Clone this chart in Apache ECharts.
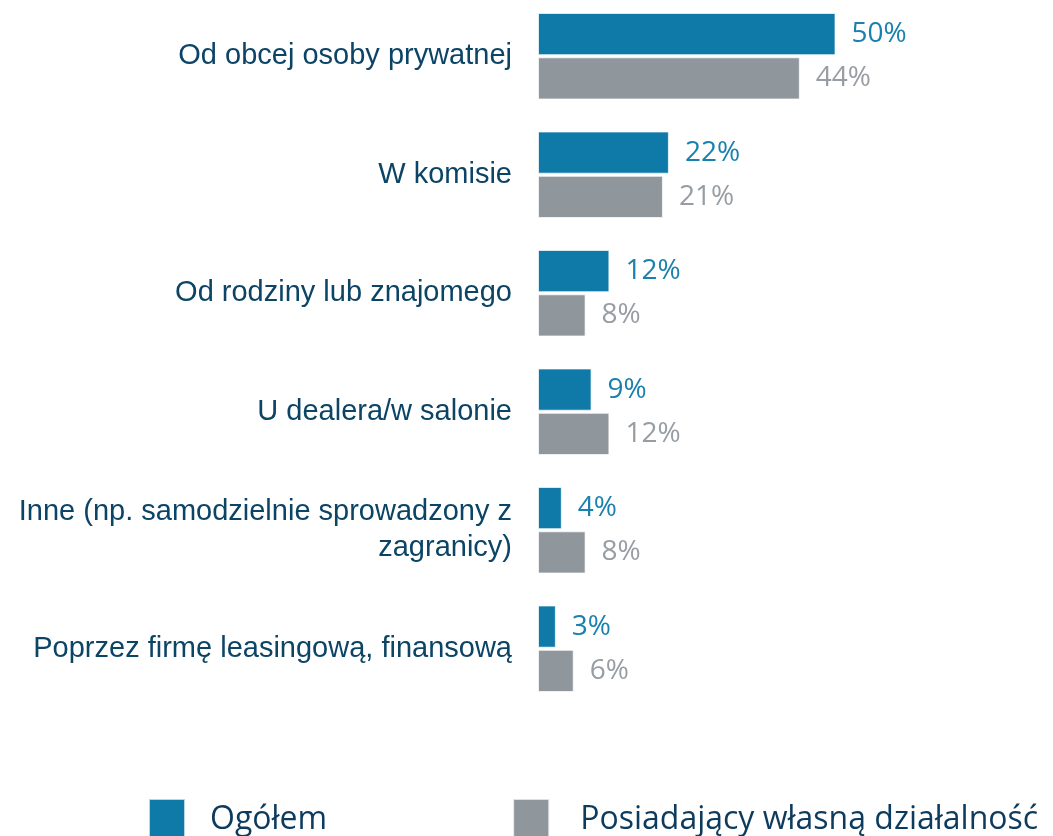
<!DOCTYPE html>
<html>
<head>
<meta charset="utf-8">
<script src="https://cdn.jsdelivr.net/npm/echarts@6/dist/echarts.min.js"></script>
<style>
  html, body { margin: 0; padding: 0; background: #fff; overflow: hidden; }
  #chart { width: 1053px; height: 839px; margin-top: -3px; }
</style>
</head>
<body>
<div id="chart"></div>
<script>
// dane z wykresu (%)
const categories = [
  'Od obcej osoby prywatnej',
  'W komisie',
  'Od rodziny lub znajomego',
  'U dealera/w salonie',
  'Inne (np. samodzielnie sprowadzony z\nzagranicy)',
  'Poprzez firmę leasingową, finansową'
];
const ogolem = [50, 22, 12, 9, 4, 3];
const dzialalnosc = [44, 21, 8, 12, 8, 6];
const seriesNames = ['Ogółem', 'Posiadający własną działalność'];

const C = { blue: '#0f79a7', gray: '#8f979d', blueTxt: '#1a80ad', grayTxt: '#979da2', ink: '#0c4466', legendInk: '#0d3b5e' };
const LABEL_FONT = '"Open Sans", sans-serif';

const chart = echarts.init(document.getElementById('chart'));

const mkSeries = (name, data, color, txt) => ({
  name, type: 'bar', data,
  barGap: '5%', barCategoryGap: '27%',
  itemStyle: { color, borderColor: 'rgba(255,255,255,0.7)', borderWidth: 1 },
  label: {
    show: true, position: 'right', distance: 16, formatter: '{c}%',
    color: txt, fontFamily: LABEL_FONT, fontSize: 28
  },
  emphasis: { disabled: true }
});

chart.setOption({
  animation: false,
  grid: { left: 538, right: 39, top: 0, height: 711, containLabel: false },
  xAxis: { type: 'value', min: 0, max: 80, show: false },
  yAxis: {
    type: 'category', data: categories, inverse: true,
    axisLine: { show: false }, axisTick: { show: false },
    axisLabel: {
      margin: 26, color: C.ink, fontFamily: '"Liberation Sans", Arial, sans-serif',
      fontSize: 29, align: 'right', lineHeight: 36
    }
  },
  legend: {
    left: 148, top: 801, padding: 0, itemWidth: 36, itemHeight: 42, itemGap: 185,
    icon: 'rect',
    textStyle: { color: C.legendInk, fontFamily: LABEL_FONT, fontSize: 32, padding: [0, 0, 0, 20] },
    data: [
      { name: seriesNames[0] },
      { name: seriesNames[1], textStyle: { padding: [0, 0, 0, 26] } }
    ]
  },
  series: [
    mkSeries(seriesNames[0], ogolem, C.blue, C.blueTxt),
    mkSeries(seriesNames[1], dzialalnosc, C.gray, C.grayTxt)
  ]
});
</script>
</body>
</html>
